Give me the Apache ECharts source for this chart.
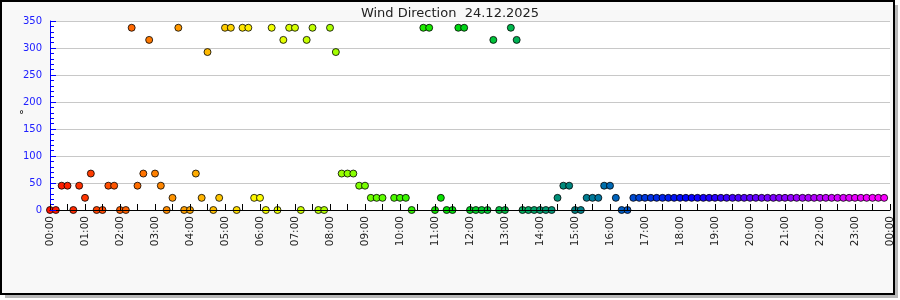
<!DOCTYPE html>
<html><head><meta charset="utf-8">
<script src="https://cdn.jsdelivr.net/npm/echarts@6/dist/echarts.min.js"></script>
<style>html,body{margin:0;padding:0;background:#fff}#c{width:900px;height:300px}</style>
</head><body><div id="c"></div>
<script>
const chartTitle = 'Wind Direction  24.12.2025';
const yTicks = [0, 50, 100, 150, 200, 250, 300, 350];
const times = [
 '00:00','00:10','00:20','00:30','00:40','00:50',
 '01:00','01:10','01:20','01:30','01:40','01:50',
 '02:00','02:10','02:20','02:30','02:40','02:50',
 '03:00','03:10','03:20','03:30','03:40','03:50',
 '04:00','04:10','04:20','04:30','04:40','04:50',
 '05:00','05:10','05:20','05:30','05:40','05:50',
 '06:00','06:10','06:20','06:30','06:40','06:50',
 '07:00','07:10','07:20','07:30','07:40','07:50',
 '08:00','08:10','08:20','08:30','08:40','08:50',
 '09:00','09:10','09:20','09:30','09:50',
 '10:00','10:10','10:20','10:40','10:50',
 '11:00','11:10','11:20','11:30','11:40','11:50',
 '12:00','12:10','12:20','12:30','12:40','12:50',
 '13:00','13:10','13:20','13:30','13:40','13:50',
 '14:00','14:10','14:20','14:30','14:40','14:50',
 '15:00','15:10','15:20','15:30','15:40','15:50',
 '16:00','16:10','16:20','16:30','16:40','16:50',
 '17:00','17:10','17:20','17:30','17:40','17:50',
 '18:00','18:10','18:20','18:30','18:40','18:50',
 '19:00','19:10','19:20','19:30','19:40','19:50',
 '20:00','20:10','20:20','20:30','20:40','20:50',
 '21:00','21:10','21:20','21:30','21:40','21:50',
 '22:00','22:10','22:20','22:30','22:40','22:50',
 '23:00','23:10','23:20','23:30','23:40','23:50'
];
const directions = [
 0,0,45,45,0,45,
 22.5,67.5,0,0,45,45,
 0,0,337.5,45,67.5,315,
 67.5,45,0,22.5,337.5,0,
 0,67.5,22.5,292.5,0,22.5,
 337.5,337.5,0,337.5,337.5,22.5,
 22.5,0,337.5,0,315,337.5,
 337.5,0,315,337.5,0,0,
 337.5,292.5,67.5,67.5,67.5,45,
 45,22.5,22.5,22.5,22.5,
 22.5,22.5,0,337.5,337.5,
 0,22.5,0,0,337.5,337.5,
 0,0,0,0,315,0,
 0,337.5,315,0,0,0,
 0,0,0,22.5,45,45,
 0,0,22.5,22.5,22.5,45,
 45,22.5,0,0,22.5,22.5,
 22.5,22.5,22.5,22.5,22.5,22.5,
 22.5,22.5,22.5,22.5,22.5,22.5,
 22.5,22.5,22.5,22.5,22.5,22.5,
 22.5,22.5,22.5,22.5,22.5,22.5,
 22.5,22.5,22.5,22.5,22.5,22.5,
 22.5,22.5,22.5,22.5,22.5,22.5,
 22.5,22.5,22.5,22.5,22.5,22.5
];

function toMin(t){ const p = t.split(':'); return (+p[0])*60 + (+p[1]); }
function fmt(m){ m = m % 1440; const h = Math.floor(m/60), mm = m%60; return String(h).padStart(2,'0')+':'+String(mm).padStart(2,'0'); }

const hueStops = [[0,4],[180,30],[300,48],[360,60],[420,70],[480,80],[540,92],[660,116],[780,142],[900,180],[960,205],[1020,225],[1200,262],[1380,295],[1440,300]];
function interp(stops, x){
  for (let i=1;i<stops.length;i++){
    if (x <= stops[i][0]) { const a=stops[i-1], b=stops[i]; return a[1] + (b[1]-a[1])*(x-a[0])/(b[0]-a[0]); }
  }
  return stops[stops.length-1][1];
}
function hsv(h,s,v){
  h = ((h%360)+360)%360;
  const c=v*s, x=c*(1-Math.abs((h/60)%2-1)), m=v-c;
  let r,g,b;
  if(h<60){r=c;g=x;b=0}else if(h<120){r=x;g=c;b=0}else if(h<180){r=0;g=c;b=x}
  else if(h<240){r=0;g=x;b=c}else if(h<300){r=x;g=0;b=c}else{r=c;g=0;b=x}
  return 'rgb('+Math.round((r+m)*255)+','+Math.round((g+m)*255)+','+Math.round((b+m)*255)+')';
}
function colorFor(min){
  const h = interp(hueStops, min);
  let v = 1;
  if (h > 100 && h <= 180) v = 1 - 0.5*(h-100)/80;
  else if (h > 180 && h < 240) v = 0.5 + 0.5*(h-180)/60;
  return hsv(h, 1, v);
}

const points = times.map((t,i)=>[toMin(t), directions[i]]);
const font = 'DejaVu Sans';

const chart = echarts.init(document.getElementById('c'), null, {renderer:'canvas'});
chart.setOption({
  animation: false,
  backgroundColor: 'transparent',
  graphic: [
    {type:'rect', z:-20, shape:{x:5,y:5,width:893,height:293}, style:{fill:'#b8b8b8'}},
    {type:'rect', z:-19, shape:{x:1,y:1,width:893,height:293}, style:{fill:'#f8f8f8', stroke:'#000', lineWidth:2}}
  ],
  title: {
    text: chartTitle, left: 'center', top: 2,
    textStyle: {fontFamily: font, fontSize: 13, fontWeight: 'normal', color: '#222'}
  },
  grid: {left: 50, right: 10, top: 21, bottom: 90, show: true, backgroundColor: '#fff', borderWidth: 0},
  xAxis: {
    type: 'value', min: 0, max: 1440, interval: 60, z: 10,
    axisLine: {show: true, onZero: false, lineStyle: {color: '#000', width: 1}},
    axisTick: {show: true, inside: true, length: 6, lineStyle: {color: '#000'}},
    minorTick: {show: true, splitNumber: 2, length: 6, lineStyle: {color: '#000'}},
    splitLine: {show: false},
    axisLabel: {rotate: 90, margin: 6, fontFamily: font, fontSize: 10.5, color: '#222', formatter: v => fmt(v)}
  },
  yAxis: [
    {
      type: 'value', min: yTicks[0], max: yTicks[yTicks.length-1], interval: 50, z: 10,
      name: '°', nameLocation: 'middle', nameRotate: 0, nameGap: 26, nameMoveOverlap: false,
      nameTextStyle: {fontFamily: font, fontSize: 10, color: '#000'},
      axisLine: {show: true, lineStyle: {color: '#0000ff', width: 1}},
      axisTick: {show: true, inside: true, length: 6, lineStyle: {color: '#0000ff'}},
      minorTick: {show: true, splitNumber: 5, length: 4, lineStyle: {color: '#0000ff'}},
      splitLine: {show: false},
      axisLabel: {margin: 8, fontFamily: font, fontSize: 10, color: '#2020ff'}
    },
    {
      type: 'value', min: yTicks[0], max: yTicks[yTicks.length-1], interval: 50, z: 0,
      axisLine: {show: false}, axisTick: {show: false}, axisLabel: {show: false},
      splitLine: {show: true, lineStyle: {color: '#c8c8c8', width: 1}}
    }
  ],
  series: [{
    type: 'scatter', yAxisIndex: 0, data: points, symbol: 'circle', symbolSize: 7, clip: false, z: 5,
    itemStyle: {borderColor: '#000', borderWidth: 0.8, opacity: 1, color: p => colorFor(p.value[0])}
  }]
});
</script></body></html>
